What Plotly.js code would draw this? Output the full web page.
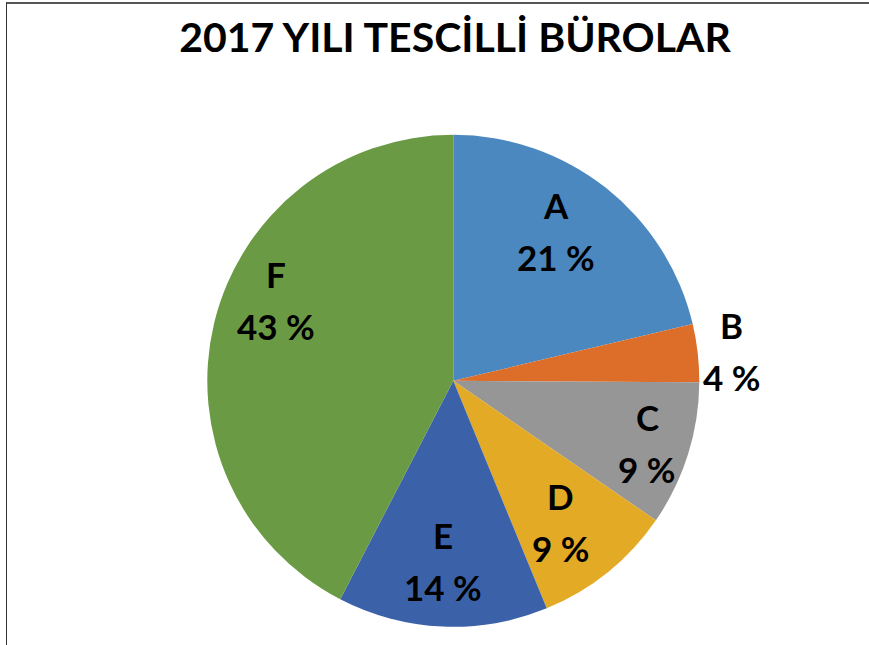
<!DOCTYPE html>
<html>
<head>
<meta charset="utf-8">
<script src="https://cdn.plot.ly/plotly-3.0.1.min.js"></script>
<style>
  html, body { margin: 0; padding: 0; background: #fff; }
  #wrap { position: relative; width: 869px; height: 645px; overflow: hidden; }
  #chart { width: 869px; height: 645px; }
  #frame { position: absolute; left: 6px; top: 2px; width: 870px; height: 660px;
           border-top: 2px solid #555; border-left: 1px solid #333; pointer-events: none; }
</style>
</head>
<body>
<div id="wrap"><div id="chart"></div><div id="frame"></div></div>
<script>
// Data
const categories = ['A', 'B', 'C', 'D', 'E', 'F'];
const shares = [21.3, 3.8, 9.5, 9.2, 13.8, 42.4];
const pctLabels = ['21 %', '4 %', '9 %', '9 %', '14 %', '43 %'];
const colors = ['#4A88BF', '#DC6E2A', '#979696', '#E3AA26', '#3B62A9', '#6A9A43'];

// Layout geometry (pixels)
const W = 869, H = 645;
const cx = 453.3, cy = 380.8, R = 246;

// Label placement tuning (angle offset in degrees, radius fraction)
const labelAngleOffset = [-3.9, 0.4, 0.3, 1.5, 0.8, 10.9];
const labelRadius = [0.738, 1.139, 0.827, 0.72, 0.732, 0.793];

const total = shares.reduce((a, b) => a + b, 0);
const annotations = [];
let cum = 0;
const labelFont = { family: 'Lato, "Open Sans", sans-serif', size: 35, color: '#000' };
shares.forEach((v, i) => {
  const mid = (cum + v / 2) / total * 360;
  cum += v;
  const ang = (mid + labelAngleOffset[i]) * Math.PI / 180;
  const px = cx + R * labelRadius[i] * Math.sin(ang);
  const py = cy - R * labelRadius[i] * Math.cos(ang);
  const xp = px / W, yp = 1 - py / H;
  annotations.push({ x: xp, y: yp, xref: 'paper', yref: 'paper', text: '<b>' + categories[i] + '</b>',
    showarrow: false, xanchor: 'center', yanchor: 'middle', yshift: 26, font: labelFont });
  annotations.push({ x: xp, y: yp, xref: 'paper', yref: 'paper', text: '<b>' + pctLabels[i] + '</b>',
    showarrow: false, xanchor: 'center', yanchor: 'middle', yshift: -26, font: labelFont });
});

const trace = {
  type: 'pie',
  labels: categories,
  values: shares,
  sort: false,
  direction: 'clockwise',
  rotation: 0,
  textinfo: 'none',
  hoverinfo: 'label+percent',
  marker: { colors: colors, line: { width: 0 } },
  domain: { x: [(cx - R) / W, (cx + R) / W], y: [1 - (cy + R) / H, 1 - (cy - R) / H] },
  showlegend: false
};

const layout = {
  width: W, height: H,
  margin: { l: 0, r: 0, t: 0, b: 0 },
  paper_bgcolor: '#fff',
  title: {
    text: '<b>2017 YILI TESCİLLİ BÜROLAR</b>',
    font: { family: 'Lato, "Open Sans", sans-serif', size: 41, color: '#000' },
    x: 455 / W, xanchor: 'center',
    y: 1 - 38 / H, yanchor: 'middle', yref: 'container'
  },
  annotations: annotations
};

Plotly.newPlot('chart', [trace], layout, { displayModeBar: false, staticPlot: true });
</script>
</body>
</html>
